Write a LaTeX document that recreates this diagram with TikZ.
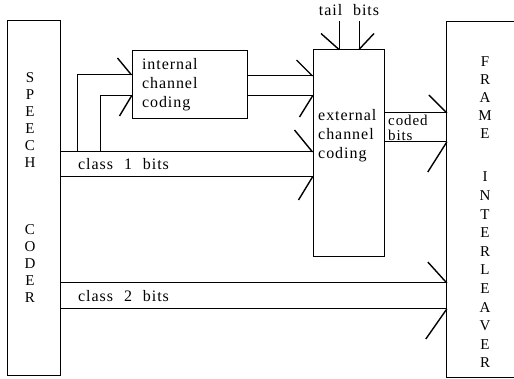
\documentclass[tikz,border=0pt]{standalone}
\usepackage{fontspec}
\setmainfont{Liberation Serif}[LetterSpace=6,WordSpace=2.2]
\begin{document}
\begin{tikzpicture}[x=1pt,y=-1pt,
  box/.style={draw, line width=1pt, inner sep=0pt},
  wire/.style={line width=1pt},
  barb/.style={line width=1.4pt},
  txt/.style={font=\fontsize{16}{19}\selectfont, inner sep=0pt},
  letters/.style={font=\fontsize{15}{17}\selectfont, inner sep=0pt, align=center}]
\useasboundingbox (0,0) rectangle (514,379);
% level coordinates
\coordinate (ia) at (0,75);
\coordinate (ib) at (0,96);
\coordinate (oa) at (0,76);
\coordinate (ob) at (0,96);
\coordinate (c1a) at (0,152);
\coordinate (c1b) at (0,177);
\coordinate (cda) at (0,113);
\coordinate (cdb) at (0,142);
\coordinate (c2a) at (0,283);
\coordinate (c2b) at (0,309);
\coordinate (ta) at (339,0);
\coordinate (tb) at (359,0);
\coordinate (ttop) at (0,21);
\coordinate (j1) at (77,152);
\coordinate (j2) at (100,152);
% boxes
\node[box, minimum width=53pt, minimum height=354pt] (sc) at (33.5,198) {};
\node[letters] (spk) at (30,120.5) {S\\P\\E\\E\\C\\H};
\node[letters] (cdr) at (30,264) {C\\O\\D\\E\\R};
\node[txt, box, minimum width=115pt, minimum height=68pt, text width=95pt,
      inner xsep=10pt, align=left] (ic) at (189.5,85) {internal\\channel\\coding};
\node[box, minimum width=71pt, minimum height=207pt] (ec) at (348.5,153.5) {};
\node[txt, anchor=west, align=left] (ect) at (318,136) {external\\channel\\coding};
\node[minimum width=69pt, minimum height=355pt, inner sep=0pt] (fi) at (481.5,199.5) {};
\draw[wire] (fi.north east) -- (fi.north west) -- (fi.south west) -- (fi.south east);
\node[letters, font=\fontsize{15}{18}\selectfont] (frm) at (485,98) {F\\R\\A\\M\\E};
\node[letters, font=\fontsize{15}{18.6}\selectfont] (itl) at (485,270) {I\\N\\T\\E\\R\\L\\E\\A\\V\\E\\R};
% labels
\node[txt, anchor=west] (l1) at (78,164) {class 1 bits};
\node[txt, anchor=west] (l2) at (78,296) {class 2 bits};
\node[txt, anchor=west, align=left, font=\fontsize{15}{14.5}\selectfont] (lc) at (388,128) {coded\\bits};
\node[txt] (lt) at (349,10) {tail bits};
% class 1 bits
\draw[wire] (sc.east |- c1a) -- (ec.west |- c1a);
\draw[wire] (sc.east |- c1b) -- (ec.west |- c1b);
\draw[barb] (ec.west |- c1a) -- ++(-18,-22);
\draw[barb] (ec.west |- c1b) -- ++(-14,23);
% into internal coding
\draw[wire] (j1) |- (ic.west |- ia);
\draw[wire] (j2) |- (ic.west |- ib);
\draw[barb] (ic.west |- ia) -- ++(-14,-17);
\draw[barb] (ic.west |- ib) -- ++(-12,20);
% internal to external
\draw[wire] (ic.east |- oa) -- (ec.west |- oa);
\draw[wire] (ic.east |- ob) -- (ec.west |- ob);
\draw[barb] (ec.west |- oa) -- ++(-16,-16);
\draw[barb] (ec.west |- ob) -- ++(-13,21);
% tail bits
\draw[wire] (ec.north -| ta) -- (ta |- ttop);
\draw[wire] (ec.north -| tb) -- (tb |- ttop);
\draw[barb] (ec.north -| ta) -- ++(-18,-16);
\draw[barb] (ec.north -| tb) -- ++(15,-16);
% coded bits
\draw[wire] (ec.east |- cda) -- (fi.west |- cda);
\draw[wire] (ec.east |- cdb) -- (fi.west |- cdb);
\draw[barb] (fi.west |- cda) -- ++(-18,-18);
\draw[barb] (fi.west |- cdb) -- ++(-19,30);
% class 2 bits
\draw[wire] (sc.east |- c2a) -- (fi.west |- c2a);
\draw[wire] (sc.east |- c2b) -- (fi.west |- c2b);
\draw[barb] (fi.west |- c2a) -- ++(-19,-21);
\draw[barb] (fi.west |- c2b) -- ++(-21,30);
\end{tikzpicture}
\end{document}
